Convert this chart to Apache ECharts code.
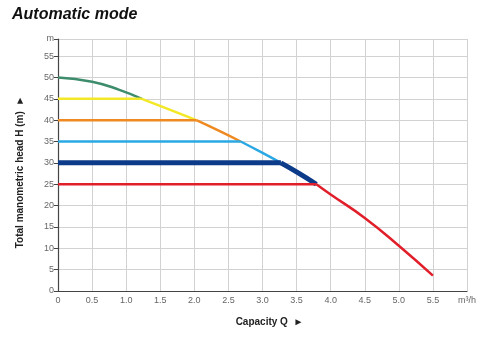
<!DOCTYPE html>
<html>
<head>
<meta charset="utf-8">
<script src="https://cdn.jsdelivr.net/npm/echarts@6/dist/echarts.min.js"></script>
<style>
  html, body { margin: 0; padding: 0; background: #fff; }
  #chart { width: 480px; height: 344px; }
</style>
</head>
<body>
<div id="chart"></div>
<script>
// Pump curve in automatic mode: head H (m) against capacity Q (m³/h)
const titleText = 'Automatic mode';
const xName = 'Capacity Q  \u25BA';
const yName = 'Total manometric head H (m)  \u25BA';

// Fixed-head settings and the flow where each meets the pump curve
const headLevels = [45, 40, 35, 30, 25];
const levelEndQ = [1.23, 2.03, 2.68, 3.27, 3.79];

// Pump curve pieces, one per setting
const curveGreen  = [[0, 50], [0.5, 49.0], [0.9, 47.1], [1.23, 45]];
const curveYellow = [[1.23, 45], [1.6, 42.7], [2.03, 40]];
const curveOrange = [[2.03, 40], [2.35, 37.6], [2.68, 35]];
const curveCyan   = [[2.68, 35], [2.98, 32.5], [3.27, 30]];
const curveNavy   = [[3.27, 30], [3.53, 27.6], [3.79, 25]];
const curveRed    = [[3.79, 25], [4.0, 22.6], [4.5, 17.1], [5.0, 10.6], [5.5, 3.6]];

const levelColors = ['#f3e827', '#ef8a22', '#2aa8e3', '#0c3b8a', '#e11f2a'];
const levelWidths = [2.5, 2.5, 2.5, 5, 2.5];
const curvePieces = [curveYellow, curveOrange, curveCyan, curveNavy, curveRed];

const series = [];
series.push({
  type: 'line', data: curveGreen, smooth: true, showSymbol: false,
  lineStyle: { color: '#3d8c6c', width: 2.5 }, z: 2
});
headLevels.forEach((h, i) => {
  series.push({
    type: 'line', data: [[0, h], [levelEndQ[i], h]], showSymbol: false,
    lineStyle: { color: levelColors[i], width: levelWidths[i] }, z: 2
  });
  series.push({
    type: 'line', data: curvePieces[i], smooth: true, showSymbol: false,
    lineStyle: { color: levelColors[i], width: levelWidths[i] }, z: 2
  });
});

const font = 'Liberation Sans, Arial, sans-serif';
const chart = echarts.init(document.getElementById('chart'), null, { renderer: 'canvas' });
chart.setOption({
  animation: false,
  title: {
    text: titleText, left: 7, top: 2,
    textStyle: { fontFamily: font, fontSize: 16, fontWeight: 'bold', fontStyle: 'italic', color: '#111' }
  },
  grid: { left: 58, right: 13, top: 39, bottom: 53 },
  xAxis: {
    type: 'value', min: 0, max: 6, interval: 0.5,
    name: xName, nameLocation: 'middle', nameGap: 26,
    nameTextStyle: { fontFamily: font, fontSize: 10, fontWeight: 'bold', color: '#222',
                     padding: [0, 0, 0, 14] },
    axisLine: { lineStyle: { color: '#444', width: 1.2 } },
    axisTick: { show: false },
    axisLabel: {
      fontFamily: font, fontSize: 9, color: '#666', margin: 5,
      formatter: v => v === 0 ? '0' : (v === 6 ? 'm\u00B3/h' : v.toFixed(1))
    },
    splitLine: { show: true, lineStyle: { color: '#d2d2d2', width: 1 } }
  },
  yAxis: {
    type: 'value', min: 0, max: 59, interval: 5,
    name: yName, nameLocation: 'middle', nameGap: 33, nameRotate: 90,
    nameTextStyle: { fontFamily: font, fontSize: 10, fontWeight: 'bold', color: '#222',
                     padding: [0, 14, 0, 0] },
    axisLine: { show: true, lineStyle: { color: '#444', width: 1.2 } },
    axisTick: { show: true, length: 4, lineStyle: { color: '#444' } },
    axisLabel: {
      fontFamily: font, fontSize: 9, color: '#666', margin: 4,
      formatter: v => (v % 5 === 0 ? String(v) : 'm')
    },
    splitLine: { show: true, lineStyle: { color: '#d2d2d2', width: 1 } }
  },
  series: series
});
</script>
</body>
</html>
